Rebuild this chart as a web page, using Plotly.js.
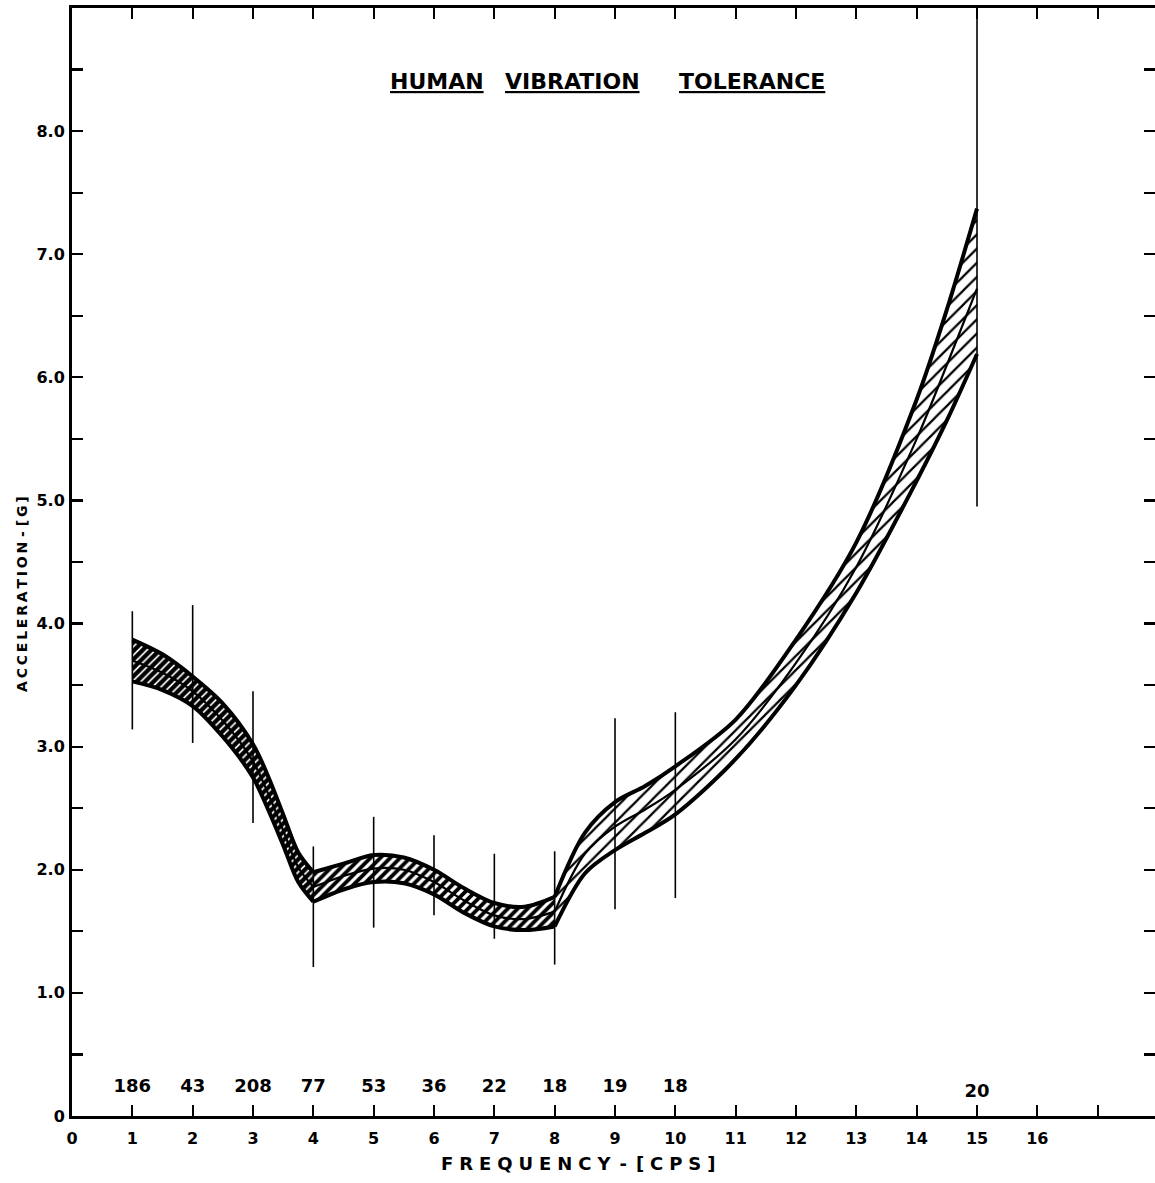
<!DOCTYPE html>
<html>
<head>
<meta charset="utf-8">
<script src="https://cdn.plot.ly/plotly-3.0.1.min.js"></script>
<style>html,body{margin:0;padding:0;background:#fff;}#chart{width:1155px;height:1183px;}</style>
</head>
<body>
<div id="chart"></div>
<script>
// ---- data ----
const freq   = [1, 1.5, 2, 2.5, 3, 3.25, 3.5, 3.75, 4, 4.5, 5, 5.5, 6, 6.5, 7, 7.5, 8, 8.5, 9, 9.5, 10, 11, 12, 13, 14, 14.5, 15];
const upperG = [3.87, 3.75, 3.57, 3.35, 3.02, 2.76, 2.45, 2.14, 1.98, 2.05, 2.12, 2.10, 2.00, 1.85, 1.73, 1.70, 1.78, 2.30, 2.55, 2.68, 2.84, 3.22, 3.87, 4.66, 5.82, 6.55, 7.37];
const middleG= [3.70, 3.60, 3.45, 3.21, 2.88, 2.62, 2.32, 2.02, 1.86, 1.95, 2.01, 2.00, 1.90, 1.75, 1.63, 1.60, 1.66, 2.13, 2.35, 2.49, 2.65, 3.06, 3.68, 4.46, 5.50, 6.10, 6.72];
const lowerG = [3.53, 3.46, 3.33, 3.08, 2.75, 2.49, 2.20, 1.90, 1.74, 1.84, 1.90, 1.89, 1.80, 1.65, 1.54, 1.51, 1.54, 1.97, 2.16, 2.30, 2.45, 2.90, 3.50, 4.25, 5.16, 5.65, 6.19];

const barFreq   = [1, 2, 3, 4, 5, 6, 7, 8, 9, 10, 15];
const barTop    = [4.10, 4.15, 3.45, 2.19, 2.43, 2.28, 2.13, 2.15, 3.23, 3.28, 9.0];
const barBottom = [3.14, 3.03, 2.38, 1.21, 1.53, 1.63, 1.44, 1.23, 1.68, 1.77, 4.95];
const sampleCounts = ["186", "43", "208", "77", "53", "36", "22", "18", "19", "18", "20"];
const countLevel   = [0.23, 0.23, 0.23, 0.23, 0.23, 0.23, 0.23, 0.23, 0.23, 0.23, 0.19];

const xTickVals = [0,1,2,3,4,5,6,7,8,9,10,11,12,13,14,15,16,17];
const xTickText = ["0","1","2","3","4","5","6","7","8","9","10","11","12","13","14","15","16",""];
const yTickVals = [0,0.5,1,1.5,2,2.5,3,3.5,4,4.5,5,5.5,6,6.5,7,7.5,8,8.5];
const yTickText = ["0","","1.0","","2.0","","3.0","","4.0","","5.0","","6.0","","7.0","","8.0",""];

// segments of the band: [start index, end index, hatch solidity, hatch size]
const segments = [[0, 8, 0.72, 6], [8, 16, 0.55, 7], [16, 26, 0.22, 10]];

const FONT = "DejaVu Sans, Arial, sans-serif";
const traces = [];
segments.forEach(([a, b, sol, sz]) => {
  const xs = freq.slice(a, b + 1);
  const lo = lowerG.slice(a, b + 1), mi = middleG.slice(a, b + 1), up = upperG.slice(a, b + 1);
  const pat = {shape: "/", fgcolor: "#000", bgcolor: "rgba(255,255,255,0)", size: sz, solidity: sol};
  traces.push({x: xs, y: lo, mode: "lines", line: {width: 0, shape: "spline", smoothing: 0.9}, hoverinfo: "skip", showlegend: false});
  traces.push({x: xs, y: mi, mode: "lines", fill: "tonexty", fillcolor: "rgba(0,0,0,0)", fillpattern: pat, line: {width: 0, shape: "spline", smoothing: 0.9}, hoverinfo: "skip", showlegend: false});
  traces.push({x: xs, y: up, mode: "lines", fill: "tonexty", fillcolor: "rgba(0,0,0,0)", fillpattern: pat, line: {width: 0, shape: "spline", smoothing: 0.9}, hoverinfo: "skip", showlegend: false});
});
segments.forEach(([a, b]) => {
  const xs = freq.slice(a, b + 1);
  traces.push({x: xs, y: middleG.slice(a, b + 1), mode: "lines", line: {color: "#000", width: 2.2, shape: "spline", smoothing: 0.9}, hoverinfo: "skip", showlegend: false});
  traces.push({x: xs, y: upperG.slice(a, b + 1), mode: "lines", line: {color: "#000", width: 4, shape: "spline", smoothing: 0.9}, hoverinfo: "skip", showlegend: false});
  traces.push({x: xs, y: lowerG.slice(a, b + 1), mode: "lines", line: {color: "#000", width: 4, shape: "spline", smoothing: 0.9}, hoverinfo: "skip", showlegend: false});
});

// range bars
const bx = [], by = [];
barFreq.forEach((f, i) => { bx.push(f, f, null); by.push(barBottom[i], barTop[i], null); });
traces.push({x: bx, y: by, mode: "lines", line: {color: "#000", width: 1.6}, hoverinfo: "skip", showlegend: false});

// sample counts
traces.push({x: barFreq, y: countLevel, mode: "text", text: sampleCounts, textposition: "middle center",
  textfont: {family: FONT, size: 18, color: "#000", weight: "bold"}, hoverinfo: "skip", showlegend: false});

const spaced = (s, sep) => s.split("").join(sep);
const ann = (text, px, py, size, weight, extra) => Object.assign({
  text: text, xref: "paper", yref: "paper", x: (px - 72) / 1083, y: (1116 - py) / 1108,
  xanchor: "center", yanchor: "middle", showarrow: false,
  font: {family: FONT, size: size, color: "#000", weight: weight}
}, extra || {});

const layout = {
  width: 1155, height: 1183,
  margin: {l: 72, r: 0, t: 8, b: 67, pad: 0},
  paper_bgcolor: "#fff", plot_bgcolor: "#fff",
  showlegend: false,
  xaxis: {
    range: [0, 17.95], tickmode: "array", tickvals: xTickVals, ticktext: xTickText,
    ticks: "inside", ticklen: 11, tickwidth: 2.2, tickcolor: "#000",
    showline: true, linewidth: 3, linecolor: "#000", mirror: "ticks",
    showgrid: false, zeroline: false, ticklabelstandoff: 6,
    tickfont: {family: FONT, size: 16, color: "#000", weight: "bold"}
  },
  yaxis: {
    range: [0, 9.0], tickmode: "array", tickvals: yTickVals, ticktext: yTickText,
    ticks: "inside", ticklen: 11, tickwidth: 2.2, tickcolor: "#000",
    showline: true, linewidth: 3, linecolor: "#000", mirror: "ticks",
    showgrid: false, zeroline: false, ticklabelstandoff: 1,
    tickfont: {family: FONT, size: 16, color: "#000", weight: "bold"}
  },
  annotations: [
    ann("<u>HUMAN</u>", 437, 82, 22, "bold"),
    ann("<u>VIBRATION</u>", 572, 82, 22, "bold"),
    ann("<u>TOLERANCE</u>", 752, 82, 22, "bold"),
    ann(spaced("FREQUENCY", "\u2004") + "\u2002-\u2002" + spaced("[CPS]", "\u2004"), 578, 1163, 18, "bold"),
    ann(spaced("ACCELERATION", "\u2009") + " - " + spaced("[G]", "\u2009"), 22, 594, 14, "bold", {textangle: -90})
  ]
};
Plotly.newPlot("chart", traces, layout, {staticPlot: true, displayModeBar: false});
</script>
</body>
</html>
